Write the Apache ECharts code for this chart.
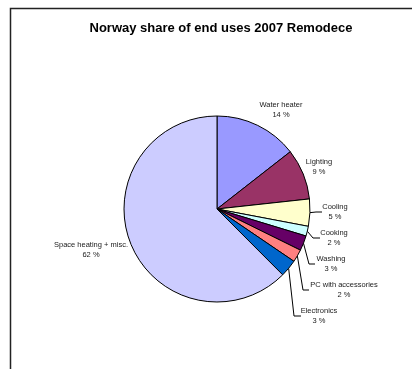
<!DOCTYPE html>
<html><head><meta charset="utf-8">
<script src="https://cdn.jsdelivr.net/npm/echarts@6/dist/echarts.min.js"></script>
<style>html,body{margin:0;padding:0;background:#fff}#c{width:412px;height:369px}</style>
</head><body><div id="c"></div>
<script>
var categories = ['Water heater','Lighting','Cooling','Cooking','Washing','PC with accessories','Electronics','Space heating + misc.'];
var values = [14.4, 8.8, 4.7, 1.7, 2.6, 2.2, 3.0, 62.3];
var colors = ['#9999FF','#993366','#FFFFCC','#CCFFFF','#660066','#FF8080','#0066CC','#CCCCFF'];
var titleText = 'Norway share of end uses 2007 Remodece';

// label placement (layout only): [x center, y center, leader elbow x, leader end x] ; null elbow = no leader
var labelPlace = [
  [281,110,null,null],
  [319,167,null,null],
  [335,212,316,322],
  [334,238,313,320],
  [331,264,309,315],
  [344,290,303,309],
  [319,316,294,301],
  [91,250,null,null]
];

var chart = echarts.init(document.getElementById('c'), null, {renderer:'canvas'});
chart.setOption({
  animation:false,
  backgroundColor:'#fff',
  title:{text:titleText,left:216,top:17,textAlign:'center',textStyle:{fontFamily:'Liberation Sans, Arial',fontSize:13,fontWeight:'bold',color:'#000'}},
  graphic:[{type:'polyline',shape:{points:[[10.5,369],[10.5,8.5],[412,8.5]]},style:{stroke:'#222',lineWidth:1.5,fill:null}}],
  series:[{
    type:'pie',
    center:[217,209],
    radius:93,
    startAngle:90,
    clockwise:true,
    avoidLabelOverlap:false,
    data:categories.map(function(c,i){
      return {name:c,value:values[i],itemStyle:{color:colors[i]},labelLine:{show:labelPlace[i][2]!==null}};
    }),
    itemStyle:{borderColor:'#000',borderWidth:1},
    label:{show:true,position:'outside',fontFamily:'Liberation Sans, Arial',fontSize:7.5,color:'#1a1a1a',lineHeight:10,align:'center',
      formatter:function(p){return p.name+'\n'+Math.round(p.percent)+' %';}},
    labelLine:{show:true,length:8,length2:6,lineStyle:{color:'#000',width:1}},
    labelLayout:function(params){
      var lp = labelPlace[params.dataIndex];
      var res = {x:lp[0], y:lp[1], align:'center', verticalAlign:'middle', hideOverlap:false};
      if (lp[2] !== null && params.labelLinePoints) {
        var start = params.labelLinePoints[0];
        res.labelLinePoints = [start, [lp[2], lp[1]], [lp[3], lp[1]]];
      }
      return res;
    },
    emphasis:{disabled:true}
  }]
});
</script></body></html>
